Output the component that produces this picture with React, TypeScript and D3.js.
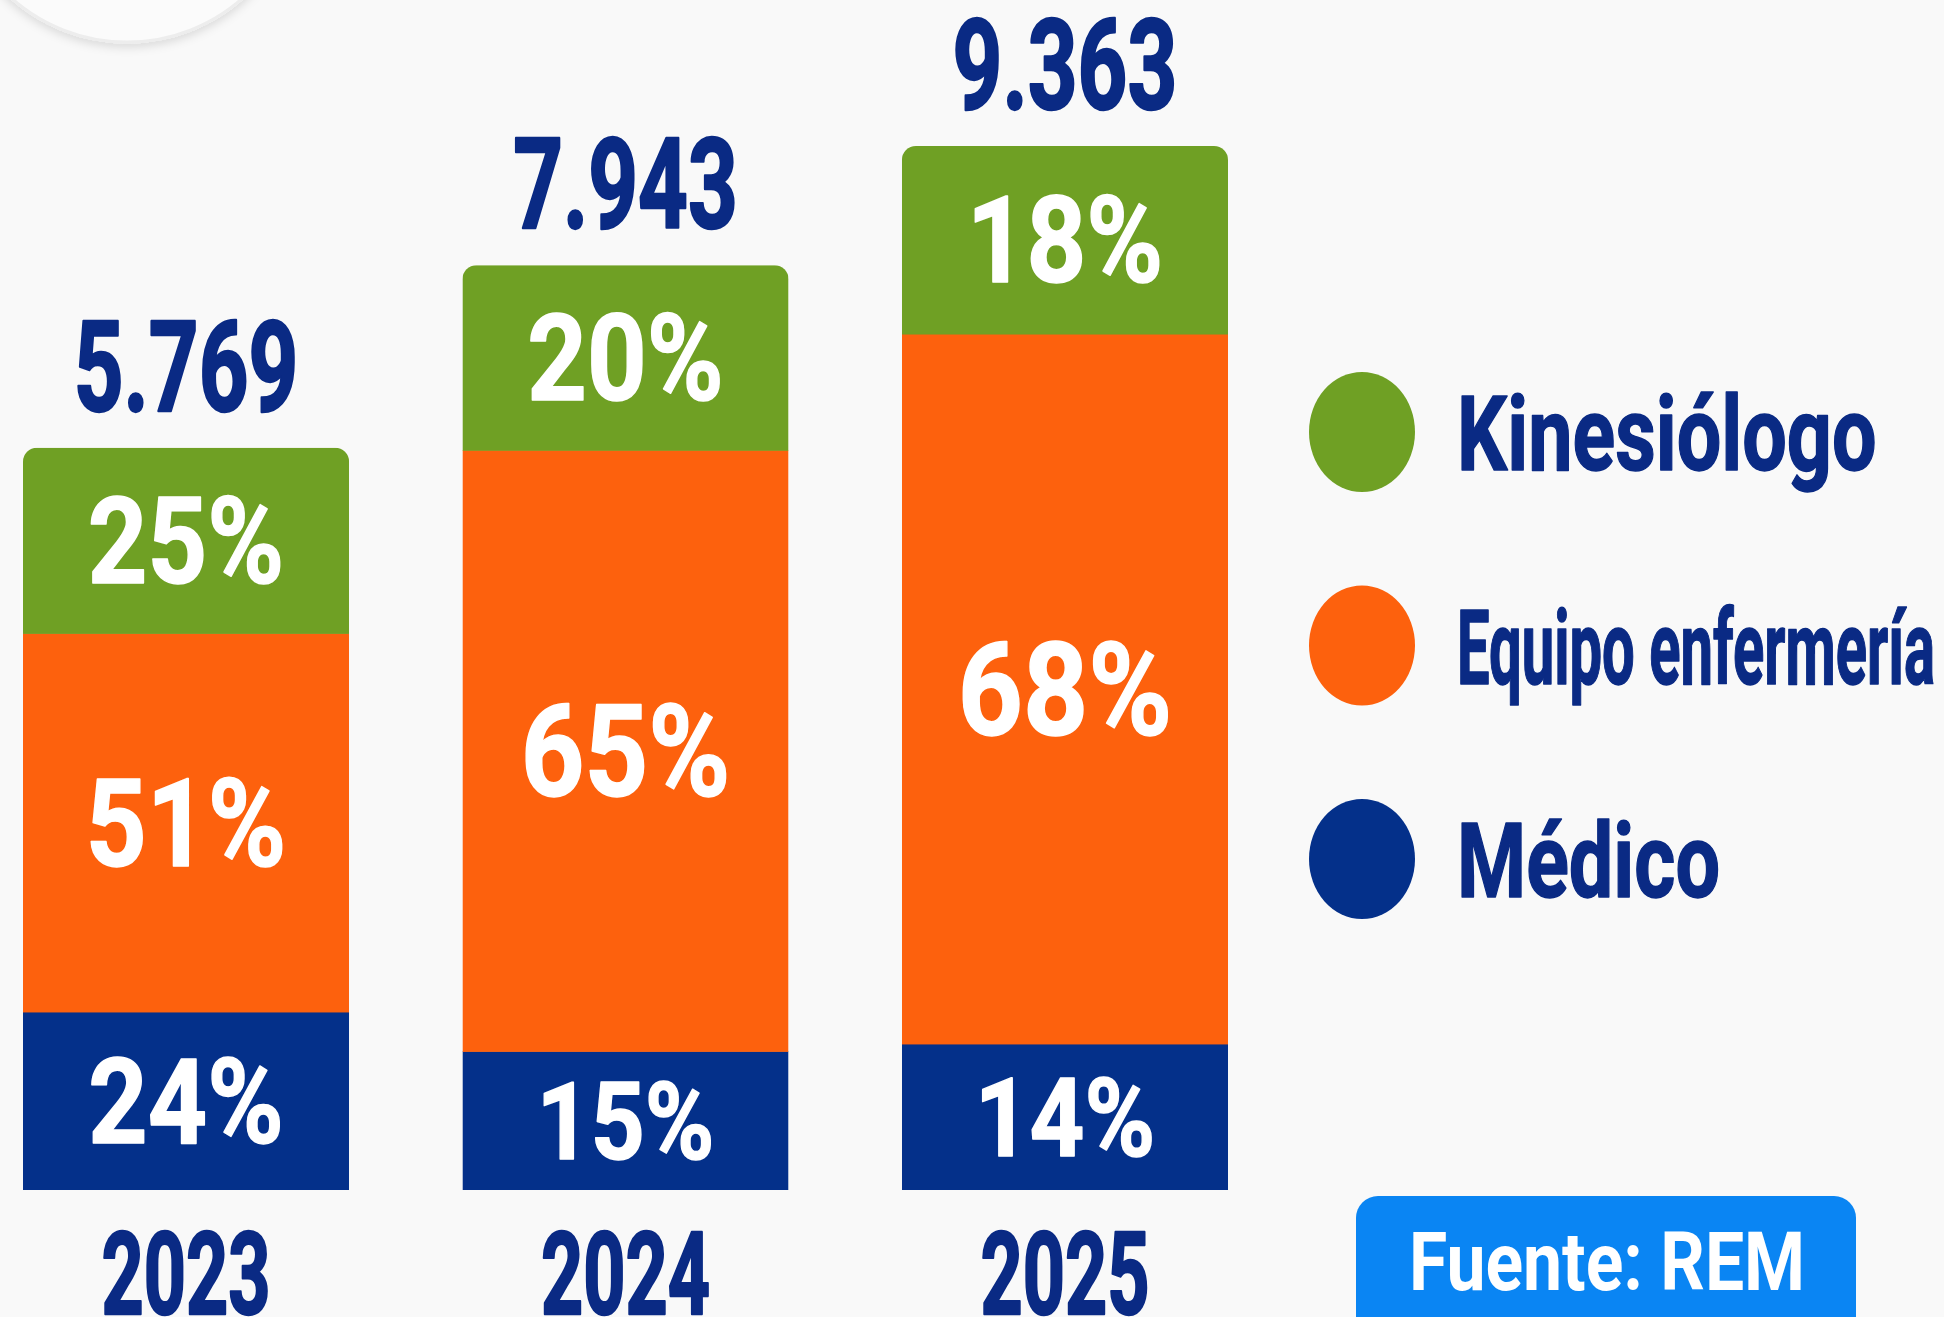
import React, { useLayoutEffect, useRef, useState } from 'react';
import * as d3 from 'd3';

const years = ['2023', '2024', '2025'];
const totals = [5769, 7943, 9363];
const totalLabels = ['5.769', '7.943', '9.363'];
const categories = ['Kinesiólogo', 'Equipo enfermería', 'Médico'];
const kinesiologo = [25, 20, 18];
const enfermeria = [51, 65, 68];
const medico = [24, 15, 14];
const sourceLabel = 'Fuente: REM';

const W = 1944;
const H = 1317;
const FONT = "Roboto, 'Liberation Sans', Arial, sans-serif";
const NAVY_TEXT = '#0A2A84';
const COLORS: Record<string, string> = {
  kinesiologo: '#6FA024',
  enfermeria: '#FD610D',
  medico: '#04308A',
};
const legendKeys = ['kinesiologo', 'enfermeria', 'medico'];
const LEGEND_X = 1457;
const LEGEND_MAX_W = 478;
const LEGEND_SX = 0.76;

export default function App() {
  const bottom = 1190;
  const x = d3.scaleBand<string>().domain(years).range([23, 1228]).paddingInner(0.258).paddingOuter(0);
  const y = d3.scaleLinear().domain([-3073, 9363]).range([bottom, 146]);

  const rows = years.map((yr, i) => ({
    year: yr,
    medico: medico[i],
    enfermeria: enfermeria[i],
    kinesiologo: kinesiologo[i],
  }));
  const stack = d3.stack<any>().keys(['medico', 'enfermeria', 'kinesiologo']);
  const series = stack(rows);

  const labelSize = d3.scaleLinear().domain([140, 180, 400, 720]).range([77, 85, 87, 93]).clamp(true);

  const legendY = d3.scalePoint<string>().domain(legendKeys).range([432, 859]);
  const legendLabel: Record<string, string> = {
    kinesiologo: categories[0],
    enfermeria: categories[1],
    medico: categories[2],
  };

  const legendRefs = useRef<(SVGTextElement | null)[]>([]);
  const [legendSx, setLegendSx] = useState<number[]>(legendKeys.map(() => LEGEND_SX));
  useLayoutEffect(() => {
    const next = legendKeys.map((_, i) => {
      const el = legendRefs.current[i];
      if (!el) return LEGEND_SX;
      const len = el.getComputedTextLength();
      return Math.min(LEGEND_SX, LEGEND_MAX_W / len);
    });
    setLegendSx(next);
  }, []);

  const heavy = (c: string, w: number) => ({
    stroke: c,
    strokeWidth: w,
    strokeLinejoin: 'round' as const,
    paintOrder: 'stroke' as const,
  });

  return (
    <svg
      width={W}
      height={H}
      viewBox={`0 0 ${W} ${H}`}
      style={{ position: 'absolute', left: 0, top: 0, display: 'block' }}
    >
      <defs>
        <filter id="soft" x="-30%" y="-30%" width="160%" height="160%">
          <feDropShadow dx="0" dy="4" stdDeviation="5" floodColor="#000" floodOpacity="0.12" />
        </filter>
        {years.map((yr, i) => (
          <clipPath id={`clip-${yr}`} key={yr}>
            <rect
              x={x(yr)}
              y={y(totals[i])}
              width={x.bandwidth()}
              height={bottom - y(totals[i]) + 40}
              rx={14}
              ry={14}
            />
          </clipPath>
        ))}
      </defs>
      <rect x={0} y={0} width={W} height={H} fill="#F9F9F9" />
      <circle cx={127} cy={-132} r={174} fill="#FBFBFB" stroke="#EDEDED" strokeWidth={3} filter="url(#soft)" />

      {years.map((yr, i) => {
        const top = y(totals[i]);
        const seg = d3.scaleLinear().domain([0, 100]).range([bottom, top]);
        const cx = (x(yr) as number) + x.bandwidth() / 2;
        return (
          <g key={yr}>
            <g clipPath={`url(#clip-${yr})`}>
              {series.map((s) => {
                const d = s[i];
                const y0 = seg(d[1]);
                const y1 = seg(d[0]);
                return (
                  <rect
                    key={s.key}
                    x={x(yr)}
                    y={y0}
                    width={x.bandwidth()}
                    height={y1 - y0 + (s.key === 'medico' ? 0 : 0.6)}
                    fill={COLORS[s.key]}
                  />
                );
              })}
            </g>
            {series.map((s) => {
              const d = s[i];
              const y0 = seg(d[1]);
              const y1 = seg(d[0]);
              const dh = labelSize(y1 - y0);
              const fs = dh / 0.711;
              const mid = (y0 + y1) / 2;
              return (
                <text
                  key={`l-${s.key}`}
                  transform={`translate(${cx},${mid + dh / 2}) scale(0.87,1)`}
                  textAnchor="middle"
                  fontFamily={FONT}
                  fontWeight={700}
                  fontSize={fs}
                  fill="#FFFFFF"
                  {...heavy('#FFFFFF', 1.5)}
                >
                  {`${d[1] - d[0]}%`}
                </text>
              );
            })}
            <text
              transform={`translate(${cx},${top - 37}) scale(0.69,1)`}
              textAnchor="middle"
              fontFamily={FONT}
              fontWeight={700}
              fontSize={126}
              fill={NAVY_TEXT}
              {...heavy(NAVY_TEXT, 2.5)}
            >
              {totalLabels[i]}
            </text>
            <text
              transform={`translate(${cx},${bottom + 124}) scale(0.64,1)`}
              textAnchor="middle"
              fontFamily={FONT}
              fontWeight={700}
              fontSize={115}
              fill={NAVY_TEXT}
              {...heavy(NAVY_TEXT, 2.5)}
            >
              {yr}
            </text>
          </g>
        );
      })}

      {legendKeys.map((k, i) => {
        const cy = legendY(k) as number;
        return (
          <g key={k}>
            <ellipse cx={1362} cy={cy} rx={53} ry={60} fill={COLORS[k]} />
            <text
              ref={(el) => {
                legendRefs.current[i] = el;
              }}
              transform={`translate(${LEGEND_X},${cy + 38}) scale(${legendSx[i]},1)`}
              fontFamily={FONT}
              fontWeight={700}
              fontSize={104}
              fill={NAVY_TEXT}
              {...heavy(NAVY_TEXT, 1.5)}
            >
              {legendLabel[k]}
            </text>
          </g>
        );
      })}

      <rect x={1356} y={1196} width={500} height={160} rx={22} ry={22} fill="#0A85F3" />
      <text
        transform={`translate(1607,1290) scale(0.85,1)`}
        textAnchor="middle"
        fontFamily={FONT}
        fontWeight={700}
        fontSize={82}
        fill="#FFFFFF"
      >
        {sourceLabel}
      </text>
    </svg>
  );
}
